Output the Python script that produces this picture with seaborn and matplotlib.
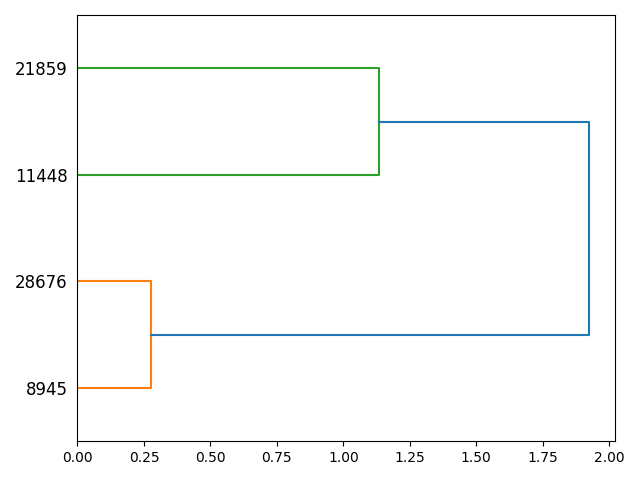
import pandas as pd
import matplotlib
matplotlib.use("Agg")
import matplotlib.pyplot as plt
import seaborn as sns

# leaves from bottom to top
leaf_labels = ["8945", "28676", "11448", "21859"]
# merge heights
low_merge = 0.275    # 8945 + 28676
high_merge = 1.135   # 11448 + 21859
root_merge = 1.925   # both clusters

leaf_pos = [5 + 10 * i for i in range(len(leaf_labels))]
mid_low = (leaf_pos[0] + leaf_pos[1]) / 2
mid_high = (leaf_pos[2] + leaf_pos[3]) / 2

rows = []


def add_link(name, group, xs, ys):
    for i, (x, y) in enumerate(zip(xs, ys)):
        rows.append({"link": name, "group": group, "order": i, "x": x, "y": y})


add_link("a", "c1", [0, low_merge, low_merge, 0],
         [leaf_pos[0], leaf_pos[0], leaf_pos[1], leaf_pos[1]])
add_link("b", "c2", [0, high_merge, high_merge, 0],
         [leaf_pos[2], leaf_pos[2], leaf_pos[3], leaf_pos[3]])
add_link("c", "root", [low_merge, root_merge, root_merge, high_merge],
         [mid_low, mid_low, mid_high, mid_high])
df = pd.DataFrame(rows)

fig, ax = plt.subplots(figsize=(6.4, 4.8), dpi=100)
sns.lineplot(
    data=df, x="x", y="y", hue="group", units="link",
    estimator=None, sort=False, legend=False, ax=ax,
    palette={"c1": "#ff7f0e", "c2": "#2ca02c", "root": "#1f77b4"},
    linewidth=1.5,
)
ax.set_xlim(0, root_merge * 1.05)
ax.set_ylim(0, 10 * len(leaf_labels))
ax.set_yticks(leaf_pos)
ax.set_yticklabels(leaf_labels, fontsize=12)
# hide y tick marks, keep their spacing
for line in ax.get_yticklines():
    line.set_visible(False)
ax.set_xlabel("")
ax.set_ylabel("")
plt.tight_layout()
plt.savefig("out.png")
plt.close()
